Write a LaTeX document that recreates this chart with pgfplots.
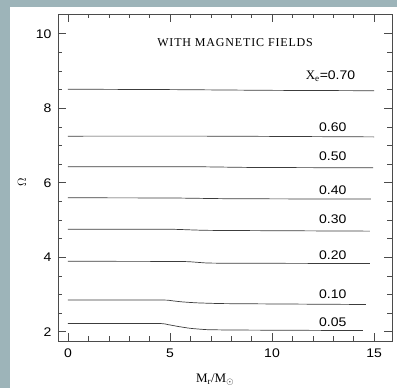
\documentclass[border=0pt]{standalone}
\usepackage{fontspec}
\setmainfont{Liberation Serif}
\newfontfamily\numfont{Liberation Sans}[FakeStretch=1.12]
\usepackage{pgfplots}
\pgfplotsset{compat=1.18}
\definecolor{bgblue}{RGB}{157,180,185}
\definecolor{axgray}{RGB}{75,75,75}
\definecolor{curve}{RGB}{60,60,60}
\begin{document}
\begin{tikzpicture}[x=1pt,y=1pt, font=\fontsize{12}{14}\selectfont,
  cv/.style={color=curve, line width=0.7pt, mark=none, smooth, tension=0.3},
  nf/.style={font=\fontsize{12.5}{14}\numfont}]
\useasboundingbox (-58,-47) rectangle (339,341);
\fill[bgblue] (-58,-47) rectangle (339,341);
\fill[white] (-48,-47) rectangle (339,334);
\begin{axis}[
  at={(0,0)}, anchor=south west,
  scale only axis, width=334pt, height=327pt,
  xmin=-0.49, xmax=15.88, ymin=1.75, ymax=10.53,
  xtick={0,5,10,15}, minor x tick num=4,
  ytick={2,4,6,8,10}, minor y tick num=3,
  tick align=inside,
  major tick length=8pt, minor tick length=4.5pt,
  axis line style={draw=axgray, line width=0.7pt},
  every tick/.style={draw=axgray, line width=0.6pt},
  /pgf/number format/assume math mode=true,
  tick label style={font=\fontsize{12.5}{14}\numfont},
  yticklabel style={xshift=-3pt},
  xticklabel style={yshift=-4pt},
  xlabel={M$_{\mathrm{r}}$/M$_\odot$},
  ylabel={$\Omega$},
  label style={font=\fontsize{13}{15}\selectfont},
  xlabel style={at={(axis description cs:0.47,-0.118)}, anchor=center},
  ylabel style={at={(axis description cs:-0.108,0.486)}, anchor=center},
]
\addplot[cv] coordinates {(0,8.51) (5,8.50) (10,8.48) (15,8.47)};
\addplot[cv] coordinates {(0,7.25) (7,7.25) (15,7.23)};
\addplot[cv] coordinates {(0,6.43) (6,6.43) (9,6.41) (14.95,6.40)};
\addplot[cv] coordinates {(0,5.595) (5,5.59) (8,5.57) (14.85,5.56)};
\addplot[cv] coordinates {(0,4.75) (5,4.75) (7,4.72) (14.8,4.70)};
\addplot[cv] coordinates {(0,3.89) (5.5,3.885) (6.4,3.86) (7.3,3.84) (14.8,3.83)};
\addplot[cv] coordinates {(0,2.85) (4.6,2.85) (5.1,2.83) (5.6,2.80) (6.3,2.775) (7.5,2.755) (10,2.745) (14.6,2.73)};
\addplot[cv] coordinates {(0,2.22) (4.4,2.22) (4.9,2.19) (5.4,2.14) (6.0,2.09) (6.8,2.055) (8,2.045) (10,2.04) (14.45,2.03)};
\node[anchor=center] at (axis cs:8.19,9.75) {\addfontfeatures{LetterSpace=7}WITH MAGNETIC FIELDS};
\node[anchor=east] at (axis cs:14.25,8.85) {\fontsize{13}{15}\selectfont X$_{\mathrm{e}}${\fontsize{12.5}{14}\numfont =0.70}};
\node[nf] at (axis cs:12.98,7.50) {0.60};
\node[nf] at (axis cs:12.98,6.70) {0.50};
\node[nf] at (axis cs:12.98,5.79) {0.40};
\node[nf] at (axis cs:12.98,5.01) {0.30};
\node[nf] at (axis cs:12.98,4.05) {0.20};
\node[nf] at (axis cs:12.98,3.00) {0.10};
\node[nf] at (axis cs:12.98,2.25) {0.05};
\end{axis}
\end{tikzpicture}
\end{document}
